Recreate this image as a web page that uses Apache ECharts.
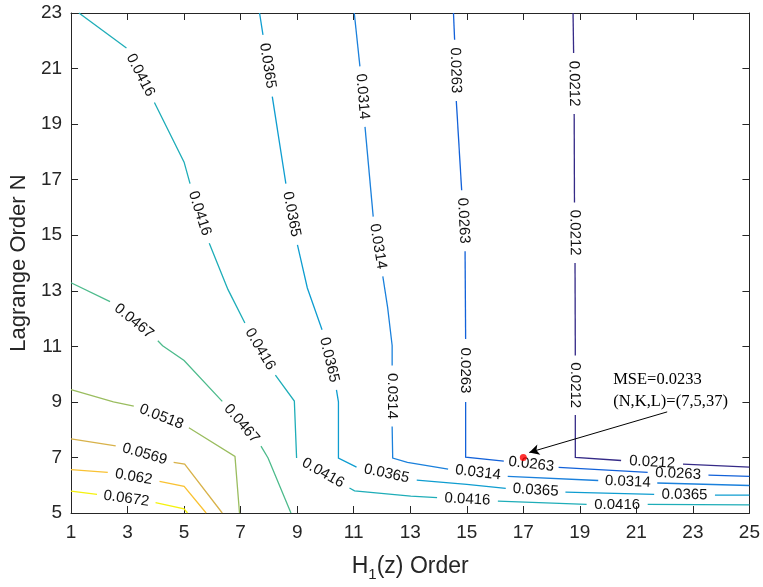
<!DOCTYPE html>
<html><head><meta charset="utf-8">
<script src="https://cdn.jsdelivr.net/npm/echarts@6/dist/echarts.min.js"></script>
<style>html,body{margin:0;padding:0;background:#fff}#c{width:763px;height:587px}</style>
</head><body><div id="c"></div><script>
// ---------- data ----------
const xTicks = [1, 3, 5, 7, 9, 11, 13, 15, 17, 19, 21, 23, 25];
const yTicks = [5, 7, 9, 11, 13, 15, 17, 19, 21, 23];
const levelLabels = ['0.0212', '0.0263', '0.0314', '0.0365', '0.0416', '0.0467', '0.0518', '0.0569', '0.062', '0.0672'];

// contour pieces (label gaps lie between consecutive pieces), [H1 order, N]
const c0212 = [
  [[18.76, 23.0], [18.78, 21.56]],
  [[18.80, 19.36], [18.81, 16.18]],
  [[18.83, 14.0], [18.84, 10.67]],
  [[18.84, 8.53], [18.84, 7.0], [20.46, 6.89]],
  [[22.65, 6.76], [25, 6.65]]
];
const c0263 = [
  [[14.53, 23.0], [14.57, 22.04]],
  [[14.63, 19.83], [14.82, 16.62]],
  [[14.94, 14.42], [14.96, 11.26]],
  [[14.96, 9.0], [14.96, 7.01], [16.31, 6.87]],
  [[18.25, 6.64], [21.4, 6.46]],
  [[23.55, 6.36], [25, 6.32]]
];
const c0314 = [
  [[11.02, 23.0], [11.22, 21.08]],
  [[11.40, 18.90], [11.69, 15.67]],
  [[12.03, 13.52], [12.2, 12.4], [12.36, 11.03], [12.36, 10.31]],
  [[12.36, 8.11], [12.38, 6.98], [12.90, 6.82], [14.34, 6.58]],
  [[16.45, 6.32], [19.65, 6.17]],
  [[21.74, 6.08], [25, 5.99]]
];
const c0365 = [
  [[7.67, 23.0], [7.79, 22.21]],
  [[8.12, 19.99], [8.60, 16.86]],
  [[9.01, 14.65], [9.36, 13.1], [9.88, 11.6]],
  [[10.39, 9.43], [10.46, 9.0], [10.46, 6.98], [11.10, 6.65]],
  [[13.23, 6.18], [15.0, 6.03], [16.38, 5.89]],
  [[18.49, 5.75], [21.63, 5.67]],
  [[23.78, 5.64], [25, 5.64]]
];
const c0416 = [
  [[1.28, 23.0], [2.96, 21.74]],
  [[3.95, 19.78], [5.0, 17.63], [5.21, 16.86]],
  [[5.89, 14.71], [6.55, 13.05], [7.15, 11.84]],
  [[8.23, 9.96], [8.9, 9.03], [8.98, 6.98]],
  [[10.85, 5.90], [11.03, 5.80], [13.02, 5.61], [13.95, 5.55]],
  [[16.1, 5.43], [19.24, 5.31]],
  [[21.4, 5.31], [25, 5.29]]
];
const c0467 = [
  [[1.0, 13.29], [2.38, 12.61]],
  [[4.07, 11.2], [4.24, 11.02], [5.0, 10.49], [6.35, 9.02]],
  [[7.72, 7.41], [7.97, 6.98], [8.78, 5.0]]
];
const c0518 = [
  [[1.0, 9.44], [2.5, 9.0], [3.22, 8.85]],
  [[5.17, 8.07], [6.80, 7.04], [6.96, 5.0]]
];
const c0569 = [
  [[1.0, 7.67], [2.58, 7.42]],
  [[4.63, 6.82], [5.02, 6.76], [6.35, 5.0]]
];
const c0620 = [
  [[1.0, 6.56], [2.30, 6.46]],
  [[4.13, 6.14], [5.0, 5.96], [5.78, 5.0]]
];
const c0672 = [
  [[1.0, 5.79], [1.92, 5.67]],
  [[3.99, 5.37], [5.0, 5.15], [5.12, 5.0]]
];
const contours = [c0212, c0263, c0314, c0365, c0416, c0467, c0518, c0569, c0620, c0672];

const bestPoint = [[17, 7]];
const noteLines = ['MSE=0.0233', '(N,K,L)=(7,5,37)'];
const noteAnchor = [[20.18, 10.2]];
const arrowFrom = [22.09, 8.64];
const arrowTo = [17.21, 7.18];

// ---------- styles ----------
const levelColors = ['#352a87', '#1261d9', '#1a80dc', '#0e9dd0', '#1eadb8', '#4dbb8c', '#9abd5f', '#d8b24a', '#f9c233', '#f5f20e'];
const axisColor = '#262626';
const sans = '"Liberation Sans", Arial, Helvetica, sans-serif';
const serif = '"Liberation Serif", "Times New Roman", serif';

// label gaps derived from the contour pieces
const gapData = [];
contours.forEach((pieces, li) => {
  for (let k = 0; k + 1 < pieces.length; k++) {
    const a = pieces[k][pieces[k].length - 1];
    const b = pieces[k + 1][0];
    gapData.push([a[0], a[1], b[0], b[1], li]);
  }
});

const series = [];
contours.forEach((pieces, li) => {
  series.push({
    type: 'lines',
    coordinateSystem: 'cartesian2d',
    polyline: true,
    silent: true,
    z: 2,
    lineStyle: { color: levelColors[li], width: 1.3, opacity: 1 },
    data: pieces.map(p => ({ coords: p }))
  });
});

series.push({
  type: 'custom',
  z: 3,
  silent: true,
  data: gapData,
  encode: { x: [0, 2], y: [1, 3] },
  renderItem: (params, api) => {
    const p1 = api.coord([api.value(0), api.value(1)]);
    const p2 = api.coord([api.value(2), api.value(3)]);
    let a = Math.atan2(p2[1] - p1[1], p2[0] - p1[0]);
    const deg = a * 180 / Math.PI;
    if (deg > 100) a -= Math.PI; else if (deg <= -80) a += Math.PI;
    return {
      type: 'text',
      x: (p1[0] + p2[0]) / 2,
      y: (p1[1] + p2[1]) / 2,
      rotation: -a,
      style: {
        text: levelLabels[api.value(4)],
        fontSize: 15,
        fontFamily: sans,
        fill: '#111',
        align: 'center',
        verticalAlign: 'middle'
      }
    };
  }
});

series.push({
  type: 'scatter',
  z: 5,
  data: bestPoint,
  symbol: 'circle',
  symbolSize: 7,
  itemStyle: { color: '#ff0000' },
  silent: true,
  markLine: {
    silent: true,
    symbol: ['none', 'arrow'],
    symbolSize: [8, 10],
    label: { show: false },
    lineStyle: { color: '#000', width: 1, type: 'solid' },
    data: [[{ coord: arrowFrom }, { coord: arrowTo }]]
  }
});

series.push({
  type: 'custom',
  z: 6,
  silent: true,
  data: noteAnchor,
  renderItem: (params, api) => {
    const p = api.coord([api.value(0), api.value(1)]);
    return {
      type: 'text',
      x: p[0], y: p[1],
      style: {
        text: noteLines.join('\n'),
        fontSize: 16.5,
        lineHeight: 22,
        fontFamily: serif,
        fill: '#000',
        align: 'left',
        verticalAlign: 'top'
      }
    };
  }
});

const baseX = {
  type: 'value', min: 1, max: 25,
  axisLine: { show: true, onZero: false, lineStyle: { color: axisColor, width: 1 } },
  axisTick: { show: true, inside: true, length: 7, customValues: xTicks, lineStyle: { color: axisColor } },
  splitLine: { show: false }
};
const baseY = {
  type: 'value', min: 5, max: 23,
  axisLine: { show: true, onZero: false, lineStyle: { color: axisColor, width: 1 } },
  axisTick: { show: true, inside: true, length: 7, customValues: yTicks, lineStyle: { color: axisColor } },
  splitLine: { show: false }
};

const option = {
  animation: false,
  backgroundColor: '#fff',
  grid: { left: 62, right: 13, top: 13, bottom: 70, containLabel: false },
  xAxis: [
    Object.assign({}, baseX, {
      position: 'bottom',
      axisLabel: { customValues: xTicks, fontSize: 19, color: axisColor, margin: 10, fontFamily: sans },
      name: '{h|H}{s|1}{h|(z) Order}',
      nameLocation: 'middle',
      nameGap: 39,
      nameTextStyle: {
        color: axisColor, fontFamily: sans, fontSize: 23,
        rich: {
          h: { fontSize: 23, color: axisColor, fontFamily: sans },
          s: { fontSize: 15, color: axisColor, fontFamily: sans, padding: [15, 0, 0, 0] }
        }
      }
    }),
    Object.assign({}, baseX, { position: 'top', axisLabel: { show: false } })
  ],
  yAxis: [
    Object.assign({}, baseY, {
      position: 'left',
      axisLabel: { customValues: yTicks, fontSize: 19, color: axisColor, margin: 9, fontFamily: sans },
      name: 'Lagrange Order N',
      nameLocation: 'middle',
      nameGap: 37,
      nameTextStyle: { color: axisColor, fontFamily: sans, fontSize: 22 }
    }),
    Object.assign({}, baseY, { position: 'right', axisLabel: { show: false } })
  ],
  series: series
};

const chart = echarts.init(document.getElementById('c'), null, { renderer: 'canvas' });
chart.setOption(option);
</script></body></html>
